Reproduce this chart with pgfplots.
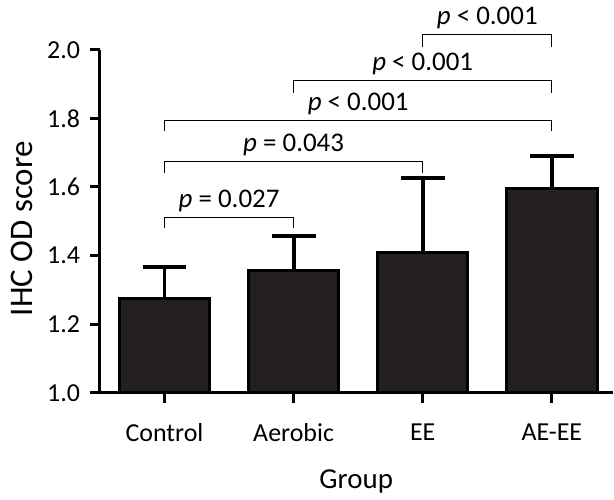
\documentclass[border=0pt]{standalone}
\usepackage{pgfplots}
\pgfplotsset{compat=1.18}
\usepackage{fontspec}
\setmainfont{Carlito}
\definecolor{barfill}{HTML}{231F20}
\begin{document}
\begin{tikzpicture}
\begin{axis}[
  scale only axis, width=257pt, height=172pt,
  xmin=-0.5, xmax=3.47, ymin=1, ymax=2,
  axis x line*=bottom, axis y line*=left,
  axis line style={line width=1.5pt,-},
  xtick={0,1,2,3}, xticklabels={Control,Aerobic,EE,AE-EE},
  ytick={1.0,1.2,1.4,1.6,1.8,2.0},
  /pgf/number format/assume math mode=true,
  tick align=outside, major tick length=5pt,
  tick style={line width=1.5pt, black},
  ticklabel style={font=\fontsize{13}{15}\selectfont},
  xticklabel style={yshift=-7pt},
  yticklabel style={xshift=-1.5pt, /pgf/number format/.cd, fixed, fixed zerofill, precision=1},
  xlabel style={font=\fontsize{14.5}{17}\selectfont, at={(axis description cs:0.5,-0.279)}, anchor=base},
  ylabel style={font=\fontsize{16.5}{19}\selectfont, at={(axis description cs:-0.152,0.478)}, anchor=center},
  ylabel={IHC OD score}, xlabel={Group},
  clip=false,
]
\addplot[ybar, bar width=0.7, fill=barfill, draw=black, line width=1.5pt,
  error bars/.cd, y dir=plus, y explicit,
  error bar style={line width=2pt, black},
  error mark options={rotate=90, mark size=11pt, line width=2pt, black}]
  coordinates {(0,1.276) +- (0,0.090) (1,1.355) +- (0,0.101) (2,1.410) +- (0,0.215) (3,1.596) +- (0,0.094)};
\begin{scope}[line width=0.6pt]
\draw (axis cs:0,1.480) |- (axis cs:1,1.511) -- (axis cs:1,1.480);
\draw (axis cs:0,1.642) |- (axis cs:2,1.674) -- (axis cs:2,1.642);
\draw (axis cs:0,1.762) |- (axis cs:3,1.794) -- (axis cs:3,1.762);
\draw (axis cs:1,1.875) |- (axis cs:3,1.910) -- (axis cs:3,1.875);
\draw (axis cs:2,2.009) |- (axis cs:3,2.044) -- (axis cs:3,2.009);
\end{scope}
\begin{scope}[every node/.style={anchor=base, inner sep=0pt, font=\fontsize{13.5}{16}\selectfont}]
\node at (axis cs:0.5,1.541) {\textit{p} = 0.027};
\node at (axis cs:1,1.704) {\textit{p} = 0.043};
\node at (axis cs:1.5,1.824) {\textit{p} < 0.001};
\node at (axis cs:2,1.940) {\textit{p} < 0.001};
\node at (axis cs:2.5,2.074) {\textit{p} < 0.001};
\end{scope}
\path (axis cs:2.5,2.145);
\path (axis description cs:-0.195,0.5);
\end{axis}
\end{tikzpicture}
\end{document}
